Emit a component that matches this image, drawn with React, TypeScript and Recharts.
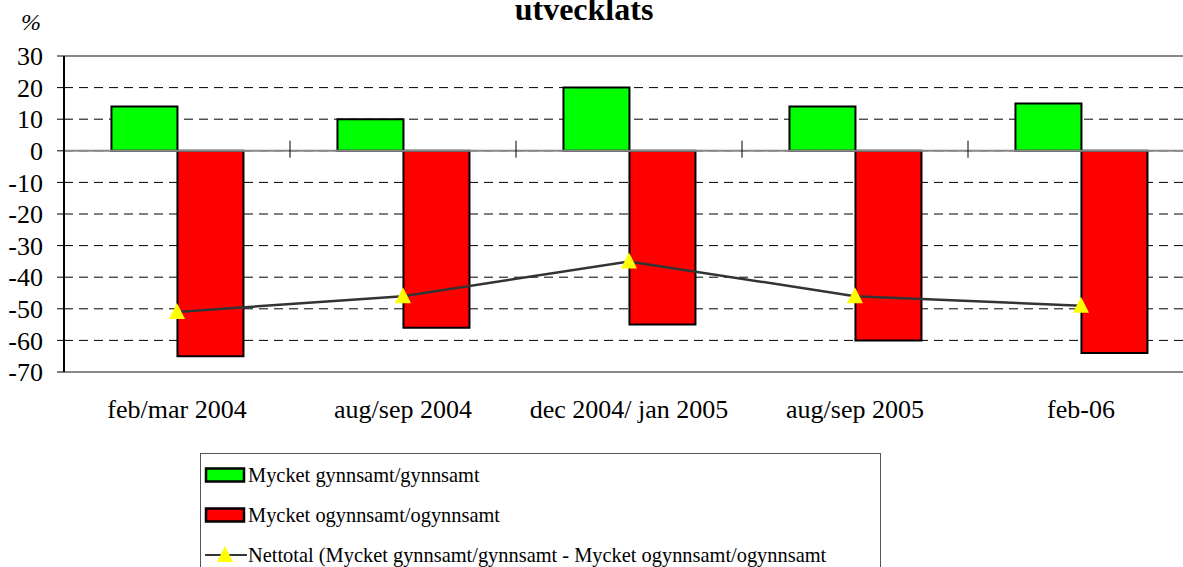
import React from "react";
import {
  Bar,
  CartesianGrid,
  ComposedChart,
  Line,
  ReferenceLine,
  XAxis,
  YAxis
} from "recharts";

const categories = [
  "feb/mar 2004",
  "aug/sep 2004",
  "dec 2004/ jan 2005",
  "aug/sep 2005",
  "feb-06"
];
const favourable = [14, 10, 20, 14, 15];
const unfavourable = [-65, -56, -55, -60, -64];
const netTotal = [-51, -46, -35, -46, -49];
const yTicks = [-70, -60, -50, -40, -30, -20, -10, 0, 10, 20, 30];
// category ticks sit on the zero line, at the start of every band but the first
const boundaryCats = categories.slice(1);

const SERIF = "'Liberation Serif', 'DejaVu Serif', 'Times New Roman', serif";
const GREEN = "#00ff00";
const RED = "#ff0000";
const YELLOW = "#ffff00";

const data = categories.map((cat, i) => ({
  cat,
  fav: favourable[i],
  unfav: unfavourable[i],
  net: netTotal[i]
}));

function Triangle(props: any) {
  const { cx, cy } = props;
  if (cx == null || cy == null) return null;
  return (
    <polygon
      points={`${cx},${cy - 9} ${cx - 8},${cy + 7} ${cx + 8},${cy + 7}`}
      fill={YELLOW}
    />
  );
}

function LegendRow({ kind, label }: { kind: "green" | "red" | "line"; label: string }) {
  return (
    <div style={{ display: "flex", alignItems: "center", height: 40 }}>
      <svg width={44} height={20} style={{ flex: "none" }}>
        {kind === "line" ? (
          <>
            <line x1={1} y1={10} x2={43} y2={10} stroke="#333" strokeWidth={2} />
            <polygon points="21,1 13,17 29,17" fill={YELLOW} />
          </>
        ) : (
          <rect
            x={2}
            y={3.5}
            width={38}
            height={13}
            fill={kind === "green" ? GREEN : RED}
            stroke="#000"
            strokeWidth={2.5}
          />
        )}
      </svg>
      <span style={{ fontSize: 20.4, whiteSpace: "nowrap" }}>{label}</span>
    </div>
  );
}

export default function App() {
  return (
    <div
      style={{
        position: "absolute",
        left: 0,
        top: 0,
        width: 1183,
        height: 567,
        overflow: "hidden",
        background: "#fff",
        fontFamily: SERIF,
        color: "#000"
      }}
    >
      <div
        style={{
          position: "absolute",
          left: 0,
          width: 1168,
          top: -7,
          textAlign: "center",
          fontWeight: "bold",
          fontSize: 32,
          lineHeight: "32px"
        }}
      >
        utvecklats
      </div>
      <div style={{ position: "absolute", left: 21, top: 9, fontSize: 24, fontStyle: "italic" }}>%</div>

      <ComposedChart
        width={1200}
        height={567}
        data={data}
        barCategoryGap="21%"
        barGap={0}
        margin={{ top: 56, right: 6, bottom: 0, left: 0 }}
        style={{ fontFamily: SERIF }}
      >
        <CartesianGrid vertical={false} stroke="#000" strokeDasharray="9 6" />
        <XAxis
          dataKey="cat"
          height={195}
          axisLine={{ stroke: "#888", strokeWidth: 2 }}
          tickLine={false}
          tickSize={0}
          tickMargin={28}
          tick={{ fontSize: 26, fill: "#000", fontFamily: SERIF }}
          interval={0}
        />
        <YAxis
          domain={[-70, 30]}
          ticks={yTicks}
          interval={0}
          width={64}
          axisLine={{ stroke: "#000", strokeWidth: 2 }}
          tickLine={{ stroke: "#000", strokeWidth: 1 }}
          tickSize={7}
          tickMargin={14}
          tick={{ fontSize: 26, fill: "#000", fontFamily: SERIF }}
        />
        <ReferenceLine y={30} stroke="#888" strokeWidth={2} />
        <Bar
          dataKey="fav"
          name="Mycket gynnsamt/gynnsamt"
          fill={GREEN}
          stroke="#000"
          strokeWidth={2}
          isAnimationActive={false}
        />
        <Bar
          dataKey="unfav"
          name="Mycket ogynnsamt/ogynnsamt"
          fill={RED}
          stroke="#000"
          strokeWidth={2}
          isAnimationActive={false}
        />
        <ReferenceLine y={0} stroke="#888" strokeWidth={2} />
        {boundaryCats.map((c) => (
          <ReferenceLine
            key={c}
            position="start"
            segment={[
              { x: c, y: 3.2 },
              { x: c, y: -2.2 }
            ]}
            stroke="#000"
            strokeWidth={1}
          />
        ))}
        <Line
          dataKey="net"
          name="Nettotal"
          stroke="#333"
          strokeWidth={2.5}
          dot={<Triangle />}
          activeDot={false}
          isAnimationActive={false}
        />
      </ComposedChart>

      <div
        style={{
          position: "absolute",
          left: 200,
          top: 453,
          width: 681,
          height: 130,
          border: "1px solid #555",
          paddingLeft: 3,
          paddingTop: 1,
          boxSizing: "border-box"
        }}
      >
        <LegendRow kind="green" label="Mycket gynnsamt/gynnsamt" />
        <LegendRow kind="red" label="Mycket ogynnsamt/ogynnsamt" />
        <LegendRow
          kind="line"
          label="Nettotal (Mycket gynnsamt/gynnsamt - Mycket ogynnsamt/ogynnsamt"
        />
      </div>
    </div>
  );
}
